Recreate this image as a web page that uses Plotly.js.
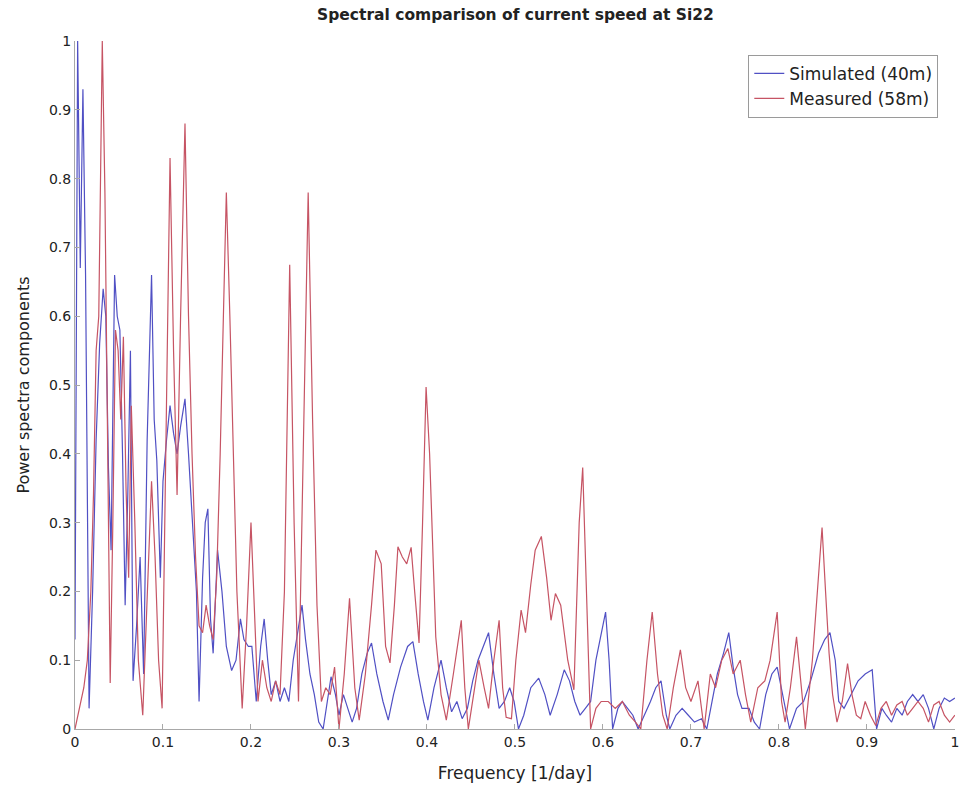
<!DOCTYPE html>
<html>
<head>
<meta charset="utf-8">
<script src="https://cdn.plot.ly/plotly-3.0.1.min.js"></script>
<style>
  html, body { margin: 0; padding: 0; background: #fff; }
  #chart { width: 959px; height: 787px; }
</style>
</head>
<body>
<div id="chart"></div>
<script>
// Normalised power spectra of current speed at station Si22

// Simulated (40 m): frequency [1/day] and spectral component
const simFreq = [
  0, 0.003, 0.006, 0.009, 0.012, 0.014, 0.016, 0.020, 0.024, 0.028,
  0.032, 0.035, 0.038, 0.041, 0.045, 0.048, 0.051, 0.054, 0.057, 0.060,
  0.063, 0.066, 0.070, 0.074, 0.078, 0.082, 0.087, 0.090, 0.093, 0.097,
  0.100, 0.104, 0.108, 0.112, 0.116, 0.120, 0.125, 0.129, 0.134, 0.138,
  0.141, 0.145, 0.148, 0.151, 0.154, 0.157, 0.162, 0.167, 0.172, 0.178,
  0.183, 0.188, 0.192, 0.197, 0.201, 0.206, 0.211, 0.215, 0.219, 0.223,
  0.228, 0.233, 0.238, 0.243, 0.248, 0.253, 0.258, 0.262, 0.267, 0.272,
  0.277, 0.282, 0.287, 0.291, 0.296, 0.300, 0.305, 0.310, 0.315, 0.320,
  0.326, 0.332, 0.337, 0.343, 0.350, 0.356, 0.362, 0.370, 0.378, 0.384,
  0.390, 0.396, 0.401, 0.408, 0.416, 0.422, 0.428, 0.434, 0.440, 0.446,
  0.452, 0.458, 0.464, 0.470, 0.476, 0.482, 0.488, 0.494, 0.499, 0.504,
  0.510, 0.518, 0.527, 0.534, 0.540, 0.548, 0.556, 0.562, 0.568, 0.574,
  0.580, 0.586, 0.592, 0.598, 0.603, 0.607, 0.611, 0.617, 0.622, 0.628,
  0.634, 0.640, 0.647, 0.654, 0.660, 0.666, 0.672, 0.676, 0.683, 0.690,
  0.697, 0.704, 0.712, 0.718, 0.724, 0.730, 0.737, 0.743, 0.748, 0.753,
  0.758, 0.766, 0.772, 0.778, 0.785, 0.792, 0.798, 0.806, 0.812, 0.820,
  0.828, 0.836, 0.845, 0.852, 0.858, 0.864, 0.868, 0.874, 0.882, 0.890,
  0.898, 0.906, 0.911, 0.917, 0.922, 0.928, 0.934, 0.940, 0.946, 0.952,
  0.958, 0.964, 0.970, 0.976, 0.982, 0.988, 0.994, 1.000
];
const simPower = [
  0.13, 1.00, 0.67, 0.93, 0.66, 0.38, 0.03, 0.20, 0.42, 0.56,
  0.64, 0.60, 0.38, 0.26, 0.66, 0.60, 0.58, 0.40, 0.18, 0.34,
  0.55, 0.07, 0.15, 0.25, 0.08, 0.42, 0.66, 0.45, 0.39, 0.22,
  0.36, 0.42, 0.47, 0.43, 0.40, 0.44, 0.48, 0.40, 0.28, 0.20,
  0.04, 0.22, 0.30, 0.32, 0.16, 0.11, 0.26, 0.20, 0.12, 0.085,
  0.10, 0.16, 0.13, 0.12, 0.12, 0.04, 0.12, 0.16, 0.10, 0.05,
  0.07, 0.04, 0.06, 0.04, 0.10, 0.14, 0.18, 0.13, 0.08, 0.05,
  0.01, 0.00, 0.04, 0.076, 0.05, 0.02, 0.05, 0.03, 0.01, 0.03,
  0.08, 0.11, 0.125, 0.08, 0.04, 0.013, 0.05, 0.09, 0.12, 0.127,
  0.08, 0.04, 0.013, 0.06, 0.10, 0.06, 0.025, 0.04, 0.015, 0.03,
  0.07, 0.10, 0.12, 0.14, 0.08, 0.03, 0.04, 0.06, 0.04, 0.00,
  0.02, 0.06, 0.074, 0.05, 0.02, 0.05, 0.086, 0.07, 0.04, 0.02,
  0.03, 0.04, 0.10, 0.14, 0.17, 0.10, 0.00, 0.03, 0.04, 0.03,
  0.02, 0.00, 0.02, 0.04, 0.06, 0.07, 0.02, 0.00, 0.02, 0.03,
  0.02, 0.01, 0.015, 0.00, 0.04, 0.08, 0.11, 0.14, 0.09, 0.05,
  0.03, 0.03, 0.01, 0.00, 0.05, 0.08, 0.09, 0.04, 0.00, 0.03,
  0.04, 0.07, 0.11, 0.13, 0.14, 0.10, 0.04, 0.03, 0.05, 0.07,
  0.08, 0.086, 0.00, 0.03, 0.02, 0.01, 0.03, 0.02, 0.04, 0.05,
  0.04, 0.05, 0.03, 0.00, 0.03, 0.045, 0.04, 0.045
];

// Measured (58 m): frequency [1/day] and spectral component
const measFreq = [
  0, 0.005, 0.010, 0.014, 0.018, 0.021, 0.024, 0.027, 0.031, 0.034,
  0.037, 0.040, 0.043, 0.046, 0.049, 0.052, 0.055, 0.058, 0.061, 0.064,
  0.068, 0.072, 0.077, 0.082, 0.087, 0.091, 0.095, 0.099, 0.103, 0.108,
  0.112, 0.116, 0.120, 0.125, 0.129, 0.133, 0.137, 0.141, 0.145, 0.149,
  0.153, 0.157, 0.161, 0.165, 0.169, 0.172, 0.176, 0.180, 0.184, 0.190,
  0.195, 0.200, 0.204, 0.208, 0.213, 0.218, 0.223, 0.228, 0.233, 0.238,
  0.244, 0.249, 0.254, 0.259, 0.265, 0.270, 0.275, 0.280, 0.285, 0.290,
  0.295, 0.300, 0.306, 0.312, 0.318, 0.323, 0.330, 0.337, 0.342, 0.348,
  0.353, 0.358, 0.363, 0.367, 0.372, 0.377, 0.382, 0.386, 0.391, 0.395,
  0.399, 0.403, 0.410, 0.416, 0.422, 0.430, 0.439, 0.443, 0.447, 0.453,
  0.459, 0.465, 0.470, 0.476, 0.482, 0.486, 0.490, 0.496, 0.501, 0.507,
  0.512, 0.518, 0.523, 0.530, 0.536, 0.541, 0.546, 0.552, 0.560, 0.567,
  0.573, 0.577, 0.581, 0.586, 0.592, 0.598, 0.606, 0.614, 0.622, 0.630,
  0.637, 0.643, 0.650, 0.656, 0.662, 0.668, 0.673, 0.680, 0.688, 0.694,
  0.700, 0.708, 0.715, 0.722, 0.728, 0.735, 0.742, 0.748, 0.756, 0.762,
  0.768, 0.776, 0.784, 0.790, 0.798, 0.803, 0.807, 0.813, 0.820, 0.826,
  0.830, 0.838, 0.844, 0.849, 0.853, 0.857, 0.861, 0.866, 0.872, 0.878,
  0.883, 0.888, 0.893, 0.898, 0.904, 0.910, 0.916, 0.922, 0.928, 0.934,
  0.940, 0.946, 0.952, 0.958, 0.964, 0.970, 0.976, 0.982, 0.988, 0.994,
  1.000
];
const measPower = [
  0.00, 0.03, 0.06, 0.10, 0.20, 0.34, 0.55, 0.60, 1.00, 0.78,
  0.45, 0.067, 0.30, 0.58, 0.55, 0.45, 0.57, 0.35, 0.22, 0.47,
  0.30, 0.10, 0.02, 0.20, 0.36, 0.25, 0.10, 0.03, 0.40, 0.83,
  0.55, 0.34, 0.60, 0.88, 0.60, 0.40, 0.25, 0.15, 0.14, 0.18,
  0.15, 0.13, 0.22, 0.40, 0.62, 0.78, 0.60, 0.38, 0.20, 0.03,
  0.15, 0.30, 0.16, 0.04, 0.10, 0.06, 0.04, 0.07, 0.05, 0.20,
  0.675, 0.30, 0.04, 0.40, 0.78, 0.45, 0.18, 0.04, 0.06, 0.05,
  0.09, 0.00, 0.08, 0.19, 0.06, 0.013, 0.08, 0.18, 0.26, 0.24,
  0.12, 0.096, 0.18, 0.265, 0.25, 0.24, 0.264, 0.20, 0.125, 0.30,
  0.497, 0.40, 0.134, 0.05, 0.013, 0.08, 0.158, 0.06, 0.00, 0.05,
  0.10, 0.06, 0.03, 0.10, 0.158, 0.06, 0.017, 0.015, 0.10, 0.173,
  0.14, 0.21, 0.26, 0.28, 0.22, 0.158, 0.197, 0.18, 0.10, 0.057,
  0.30, 0.38, 0.20, 0.00, 0.03, 0.04, 0.04, 0.03, 0.04, 0.02,
  0.01, 0.00, 0.10, 0.17, 0.08, 0.02, 0.00, 0.06, 0.115, 0.06,
  0.04, 0.07, 0.00, 0.08, 0.06, 0.10, 0.117, 0.08, 0.10, 0.05,
  0.01, 0.06, 0.07, 0.10, 0.17, 0.04, 0.01, 0.06, 0.134, 0.05,
  0.00, 0.10, 0.20, 0.293, 0.20, 0.11, 0.05, 0.01, 0.04, 0.095,
  0.05, 0.02, 0.015, 0.04, 0.02, 0.005, 0.03, 0.04, 0.02, 0.035,
  0.04, 0.02, 0.03, 0.04, 0.03, 0.01, 0.035, 0.04, 0.02, 0.01,
  0.02
];

const seriesNames = ['Simulated (40m)', 'Measured (58m)'];
const xTicks = [0, 0.1, 0.2, 0.3, 0.4, 0.5, 0.6, 0.7, 0.8, 0.9, 1];
const xTickText = ['0', '0.1', '0.2', '0.3', '0.4', '0.5', '0.6', '0.7', '0.8', '0.9', '1'];
const yTicks = [0, 0.1, 0.2, 0.3, 0.4, 0.5, 0.6, 0.7, 0.8, 0.9, 1];
const yTickText = ['0', '0.1', '0.2', '0.3', '0.4', '0.5', '0.6', '0.7', '0.8', '0.9', '1'];

const FONT = 'DejaVu Sans, Liberation Sans, sans-serif';

const traces = [
  {
    x: simFreq, y: simPower, name: seriesNames[0],
    type: 'scatter', mode: 'lines',
    line: { color: '#5050c4', width: 1.2 }
  },
  {
    x: measFreq, y: measPower, name: seriesNames[1],
    type: 'scatter', mode: 'lines',
    line: { color: '#c65464', width: 1.2 }
  }
];

const axisCommon = {
  showgrid: false,
  zeroline: false,
  showline: true,
  linecolor: '#a8a8a8',
  linewidth: 1,
  ticks: 'inside',
  ticklen: 5,
  tickcolor: '#a8a8a8',
  tickfont: { family: FONT, size: 14, color: '#222' },
  ticklabeloverflow: 'allow',
  tickmode: 'array'
};

const layout = {
  width: 959,
  height: 787,
  margin: { l: 75, r: 4, t: 41, b: 58 },
  paper_bgcolor: '#ffffff',
  plot_bgcolor: '#ffffff',
  title: {
    text: '<b>Spectral comparison of current speed at Si22</b>',
    font: { family: FONT, size: 15.5, color: '#222' },
    x: 0.5375, xanchor: 'center', y: 0.982, yanchor: 'middle'
  },
  xaxis: Object.assign({}, axisCommon, {
    range: [0, 1.0001],
    tickvals: xTicks, ticktext: xTickText,
    title: { text: 'Frequency [1/day]', font: { family: FONT, size: 17, color: '#222' }, standoff: 18 }
  }),
  yaxis: Object.assign({}, axisCommon, {
    range: [0, 1.0001],
    tickvals: yTicks, ticktext: yTickText,
    title: { text: 'Power spectra components', font: { family: FONT, size: 16, color: '#222' }, standoff: 15 }
  }),
  legend: {
    x: 0.981, xanchor: 'right',
    y: 0.98, yanchor: 'top',
    bgcolor: '#ffffff',
    bordercolor: '#9a9a9a',
    borderwidth: 1,
    font: { family: FONT, size: 17, color: '#222' },
    tracegroupgap: 0
  },
  showlegend: true
};

Plotly.newPlot('chart', traces, layout, { displayModeBar: false, staticPlot: true });
</script>
</body>
</html>
